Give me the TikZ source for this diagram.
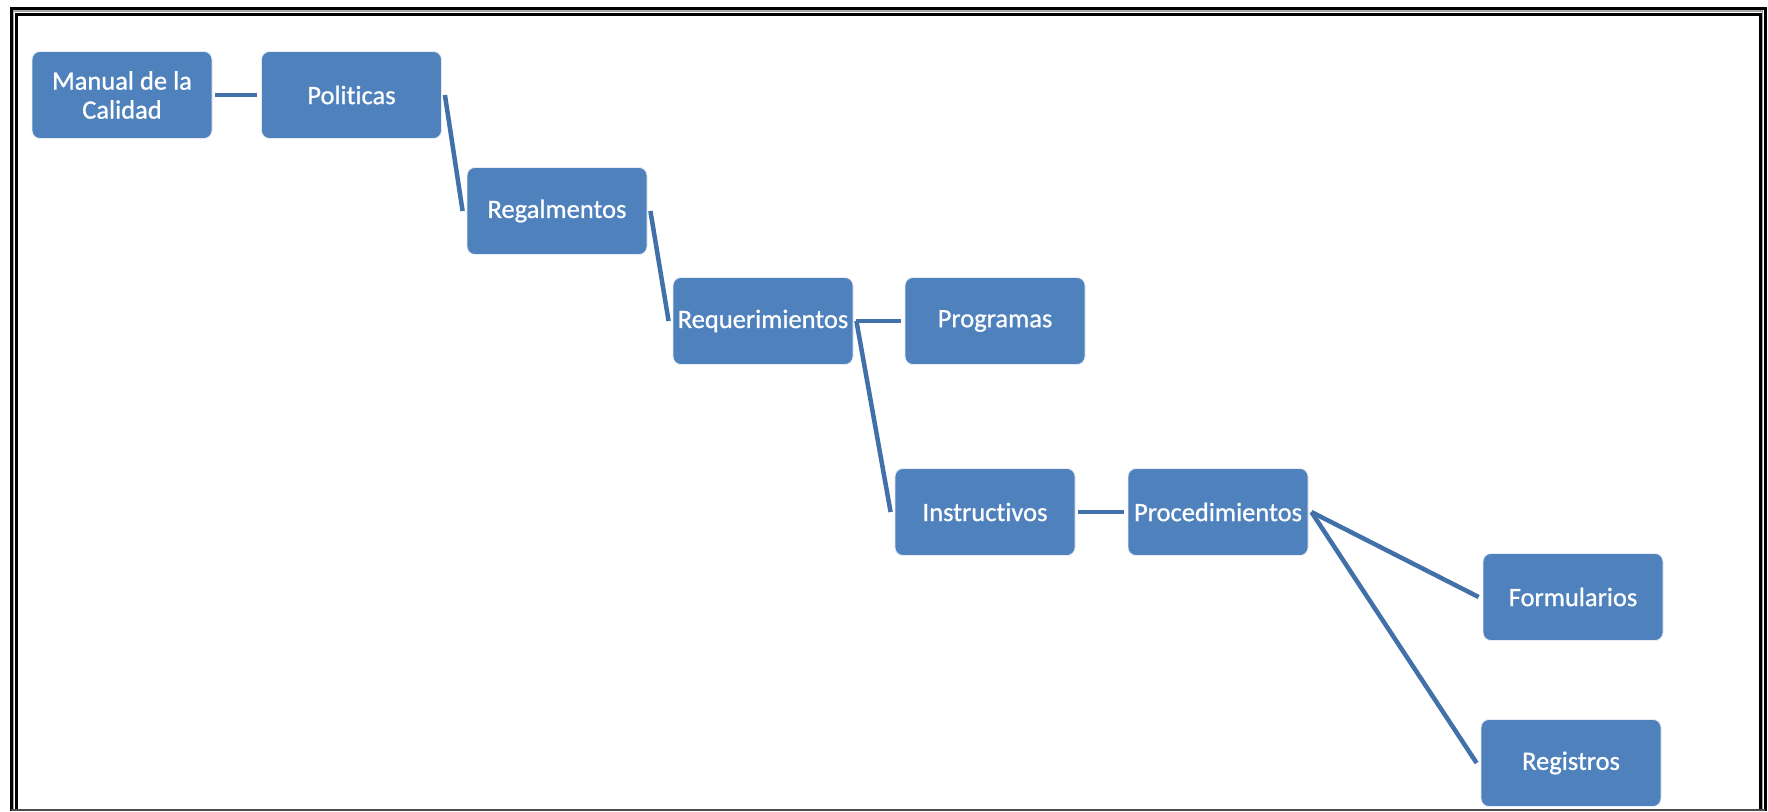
\documentclass[tikz,border=0pt]{standalone}
\usepackage{fontspec}
\newfontfamily\carlito[Ligatures={NoCommon}, FakeBold=0.8]{Carlito}
\definecolor{boxblue}{HTML}{4F81BD}
\definecolor{linkblue}{HTML}{4270A8}
\begin{document}
\begin{tikzpicture}[x=1pt,y=-1pt,
  stepbox/.style={rectangle, rounded corners=8pt, fill=boxblue, draw=white!85!boxblue,
    line width=0.8pt, minimum width=180pt, minimum height=87pt, inner sep=0pt,
    text=white, align=center, font=\carlito\fontsize{26.5}{29}\selectfont},
  link/.style={draw=linkblue, line width=4.5pt},
  frameline/.style={draw=black, line width=3pt}]
\useasboundingbox (0,0) rectangle (1768,811);
\fill[white] (0,0) rectangle (1768,811);
% double page frame
\draw[gray!70, line width=1.4pt] (13.5,811) -- (13.5,11) -- (1762.5,11) -- (1762.5,811);
\draw[frameline] (11,811) -- (11,8) -- (1765,8) -- (1765,811);
\draw[frameline] (16,811) -- (16,14) -- (1760,14) -- (1760,811);
\draw[black!70, line width=1.5pt] (11,810) -- (1765,810);
% boxes
\node[stepbox] (man)   at (122,95)   {Manual de la\\Calidad};
\node[stepbox] (pol)   at (351.5,95) {Politicas};
\node[stepbox] (reg)   at (557,211)  {Regalmentos};
\node[stepbox] (req)   at (763,321)  {Requerimientos};
\node[stepbox] (prog)  at (995,321)  {Programas};
\node[stepbox] (ins)   at (985,512)  {Instructivos};
\node[stepbox] (proc)  at (1218,512) {Procedimientos};
\node[stepbox] (form)  at (1573,597) {Formularios};
\node[stepbox] (regis) at (1571,763) {Registros};
% connectors
\draw[link] ([xshift=3pt]man.east)  -- ([xshift=-4pt]pol.west);
\draw[link] ([xshift=3pt]pol.east)  -- ([xshift=-4pt]reg.west);
\draw[link] ([xshift=3pt]reg.east)  -- ([xshift=-4pt]req.west);
\draw[link] ([xshift=3pt]req.east)  -- ([xshift=-4pt]prog.west);
\draw[link] ([xshift=3pt]req.east)  -- ([xshift=-4pt]ins.west);
\draw[link] ([xshift=3pt]ins.east)  -- ([xshift=-4pt]proc.west);
\draw[link] ([xshift=3pt]proc.east) -- ([xshift=-4pt]form.west);
\draw[link] ([xshift=3pt]proc.east) -- ([xshift=-4pt]regis.west);
\end{tikzpicture}
\end{document}
